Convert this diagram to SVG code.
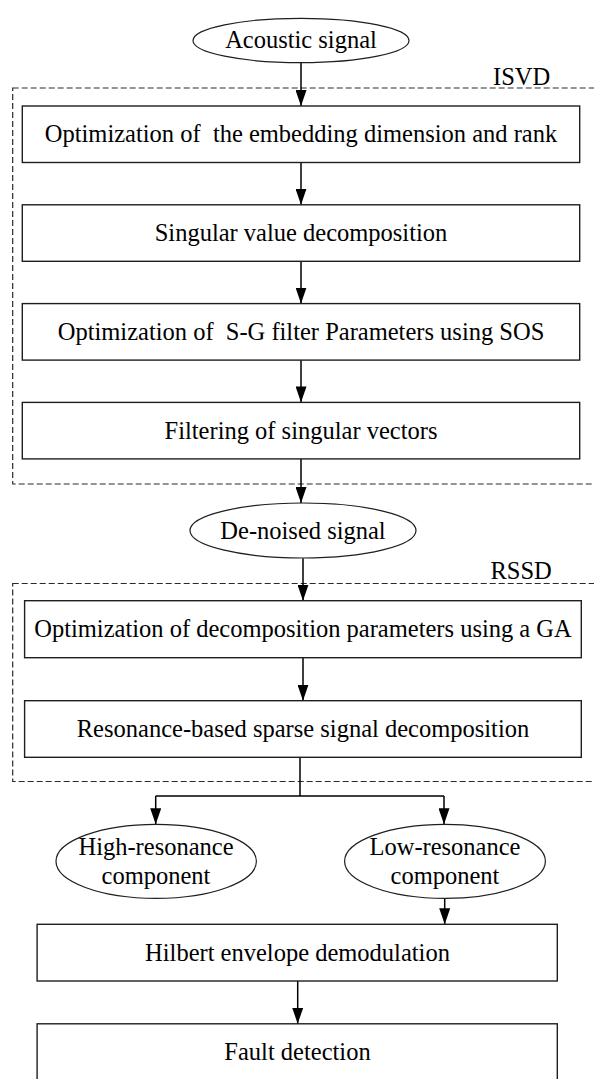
<svg xmlns="http://www.w3.org/2000/svg" width="594" height="1079" viewBox="0 0 594 1079">
  <style>
    .box { fill: #ffffff; stroke: #1e1e1e; stroke-width: 1.4; }
    .oval { fill: #ffffff; stroke: #1e1e1e; stroke-width: 1.2; }
    .frame { fill: none; stroke: #2a2a2a; stroke-width: 1.2; stroke-dasharray: 6 3; }
    .lbl { font-family: "Liberation Serif", "Times New Roman", serif; font-size: 24.5px; fill: #000000; text-anchor: middle; white-space: pre; }
    .tag { font-family: "Liberation Serif", "Times New Roman", serif; font-size: 24.5px; fill: #000000; }
    .wire { fill: none; stroke: #000000; stroke-width: 1.5; }
    .arrow { fill: none; stroke: #000000; stroke-width: 1.5; marker-end: url(#head); }
  </style>
  <defs>
    <marker id="head" markerUnits="userSpaceOnUse" markerWidth="16" markerHeight="11" refX="16" refY="5.5" orient="auto">
      <path d="M0,0 L16,5.5 L0,11 z" fill="#000000"/>
    </marker>
  </defs>

  <rect width="594" height="1079" fill="#ffffff"/>

  <!-- dashed stage frames -->
  <g id="isvd">
    <rect class="frame" x="12.7" y="88" width="600" height="396"/>
    <text class="tag" x="493" y="85">ISVD</text>
  </g>
  <g id="rssd">
    <rect class="frame" x="12.7" y="583.5" width="600" height="198"/>
    <text class="tag" x="490.5" y="578.5">RSSD</text>
  </g>

  <!-- connectors -->
  <g id="connectors">
    <line class="arrow" x1="301" y1="62.7" x2="301" y2="106"/>
    <line class="arrow" x1="301" y1="162.5" x2="301" y2="204.8"/>
    <line class="arrow" x1="301" y1="261.3" x2="301" y2="303.6"/>
    <line class="arrow" x1="301" y1="360.1" x2="301" y2="402.4"/>
    <line class="arrow" x1="301" y1="458.9" x2="301" y2="503"/>
    <line class="arrow" x1="303" y1="558.3" x2="303" y2="600.7"/>
    <line class="arrow" x1="303" y1="657.7" x2="303" y2="700.7"/>
    <path class="wire" d="M300,757.3 V796 M155.7,796 H444"/>
    <line class="arrow" x1="155.7" y1="796" x2="155.7" y2="824.3"/>
    <line class="arrow" x1="444" y1="796" x2="444" y2="824.3"/>
    <line class="arrow" x1="444.7" y1="898.3" x2="444.7" y2="924.3"/>
    <line class="arrow" x1="297.7" y1="981" x2="297.7" y2="1023.8"/>
  </g>

  <!-- nodes -->
  <g id="acoustic-signal">
    <ellipse class="oval" cx="301" cy="40.5" rx="108" ry="22.2"/>
    <text class="lbl" x="301" y="47.5">Acoustic signal</text>
  </g>
  <g id="embedding-optimization">
    <rect class="box" x="22.3" y="106" width="557.4" height="56.5"/>
    <text class="lbl" x="301" y="142">Optimization of  the embedding dimension and rank</text>
  </g>
  <g id="svd">
    <rect class="box" x="22.3" y="204.8" width="557.4" height="56.5"/>
    <text class="lbl" x="301" y="241">Singular value decomposition</text>
  </g>
  <g id="sg-optimization">
    <rect class="box" x="22.3" y="303.6" width="557.4" height="56.5"/>
    <text class="lbl" x="301" y="340">Optimization of  S-G filter Parameters using SOS</text>
  </g>
  <g id="vector-filtering">
    <rect class="box" x="22.3" y="402.4" width="557.4" height="56.5"/>
    <text class="lbl" x="301" y="439">Filtering of singular vectors</text>
  </g>
  <g id="denoised-signal">
    <ellipse class="oval" cx="303" cy="530.5" rx="113" ry="27.5"/>
    <text class="lbl" x="303" y="539">De-noised signal</text>
  </g>
  <g id="ga-optimization">
    <rect class="box" x="24.6" y="600.7" width="556.7" height="57"/>
    <text class="lbl" x="303" y="637">Optimization of decomposition parameters using a GA</text>
  </g>
  <g id="rssd-decomposition">
    <rect class="box" x="24.6" y="700.7" width="556.7" height="56.6"/>
    <text class="lbl" x="303" y="737">Resonance-based sparse signal decomposition</text>
  </g>
  <g id="high-resonance">
    <ellipse class="oval" cx="156.2" cy="861.3" rx="100.2" ry="37"/>
    <text class="lbl" x="156" y="855">High-resonance</text>
    <text class="lbl" x="156" y="883.5">component</text>
  </g>
  <g id="low-resonance">
    <ellipse class="oval" cx="445" cy="861.3" rx="100.4" ry="37"/>
    <text class="lbl" x="445" y="855">Low-resonance</text>
    <text class="lbl" x="445" y="883.5">component</text>
  </g>
  <g id="hilbert-demodulation">
    <rect class="box" x="37.1" y="924.3" width="520.2" height="56.7"/>
    <text class="lbl" x="297.5" y="960.5">Hilbert envelope demodulation</text>
  </g>
  <g id="fault-detection">
    <rect class="box" x="37.1" y="1023.8" width="520.2" height="57"/>
    <text class="lbl" x="297.5" y="1060">Fault detection</text>
  </g>
</svg>
